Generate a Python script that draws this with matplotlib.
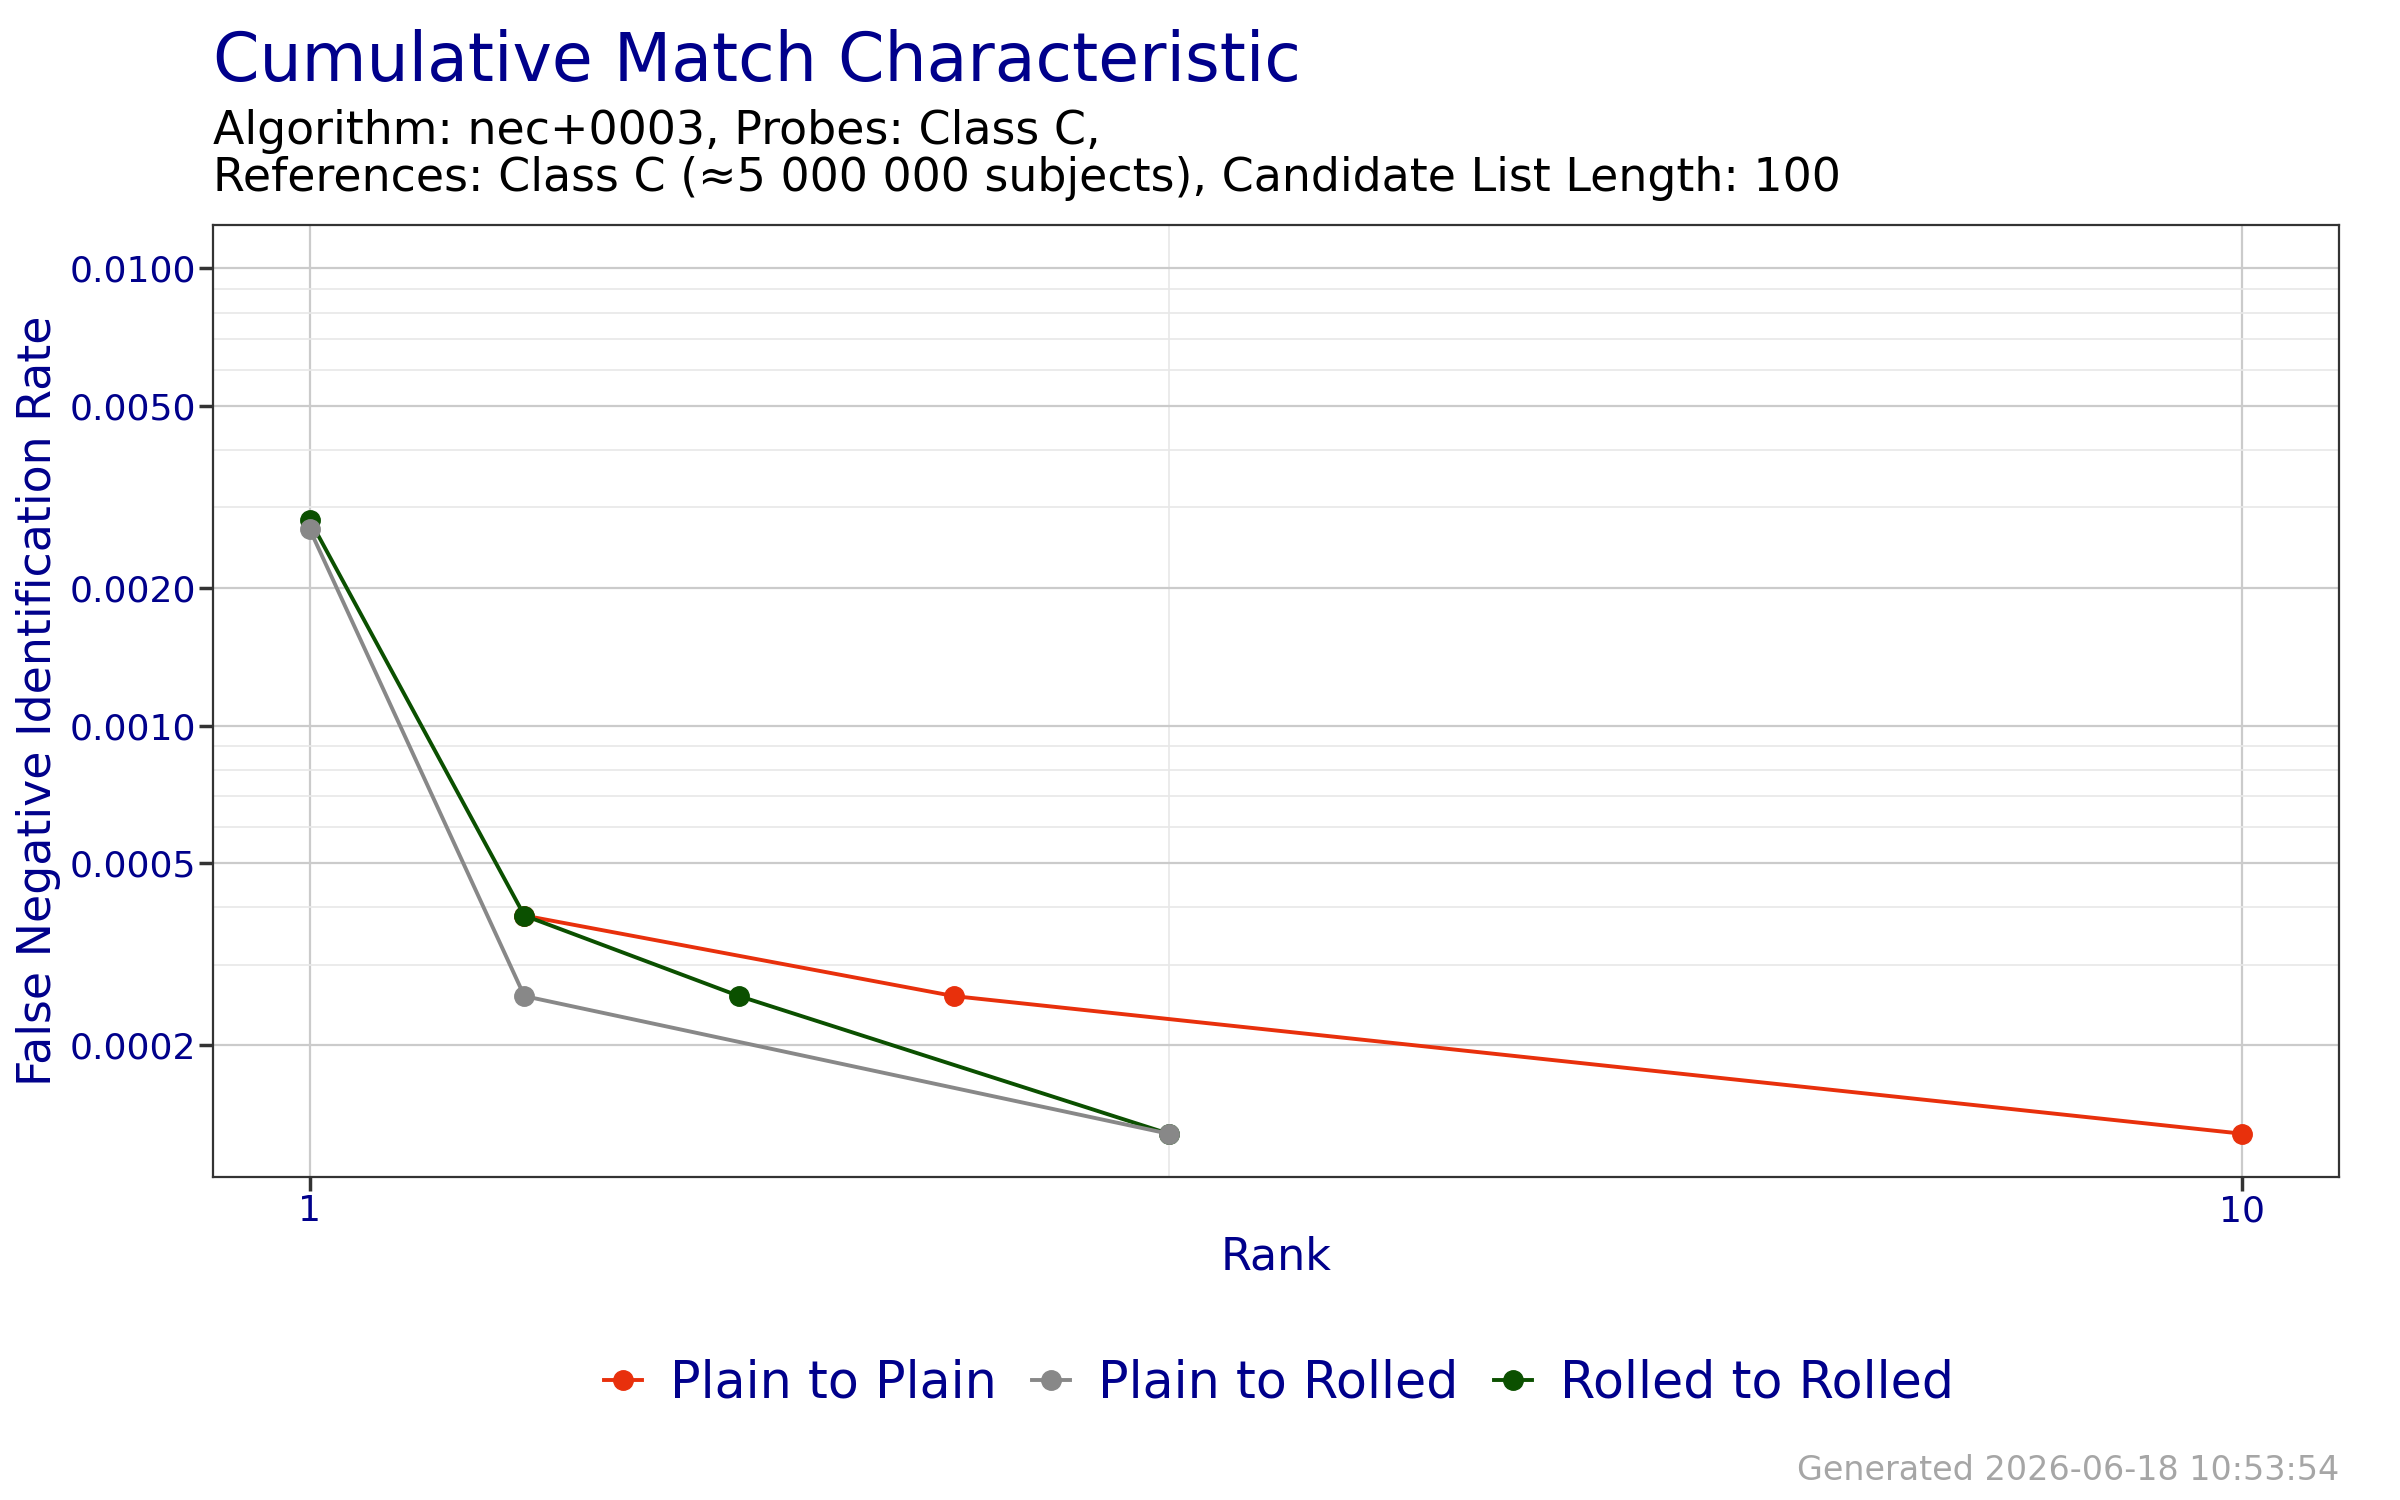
import numpy as np
import matplotlib
matplotlib.use('Agg')
import matplotlib.pyplot as plt
from matplotlib.ticker import FixedLocator, FuncFormatter

# CMC data (rank vs FNIR)
rank_pp = [2, 4, 10]
fnir_pp = [0.000384, 0.000256, 0.000128]
rank_pr = [1, 2, 5]
fnir_pr = [0.00269, 0.000256, 0.000128]
rank_rr = [1, 2, 3, 5]
fnir_rr = [0.00282, 0.000384, 0.000256, 0.000128]

series = ["Plain to Plain", "Plain to Rolled", "Rolled to Rolled"]
colors = ["#E8300C", "#888888", "#0B5000"]

y_breaks = [0.0002, 0.0005, 0.0010, 0.0020, 0.0050, 0.0100]
x_breaks = [1, 10]

navy = "#00008B"
plt.rcParams['font.family'] = ['DejaVu Sans']

fig = plt.figure(figsize=(24, 15), dpi=100)
ax = fig.add_axes([213/2400, 1 - 1177/1500, (2339-213)/2400, (1177-225)/1500])

lw = 2.8
ms = 14
ax.plot(rank_pp, fnir_pp, '-o', color=colors[0], lw=lw, ms=ms, label=series[0], zorder=3)
ax.plot(rank_pr, fnir_pr, '-o', color=colors[1], lw=lw, ms=ms, label=series[1], zorder=5)
ax.plot(rank_rr, fnir_rr, '-o', color=colors[2], lw=lw, ms=ms, label=series[2], zorder=4)

ax.set_yscale('log')
# ggplot style 5% expansion
lo, hi = np.log10(0.000128), np.log10(0.01)
pad = (hi - lo) * 0.05
ax.set_ylim(10**(lo - pad), 10**(hi + pad))
ax.set_xlim(1 - 0.45, 10 + 0.45)

ax.yaxis.set_major_locator(FixedLocator(y_breaks))
ax.yaxis.set_major_formatter(FuncFormatter(lambda v, p: "%.4f" % v))
minor_y = [m * 10.0**e for e in range(-5, -1) for m in range(2, 10)]
ax.yaxis.set_minor_locator(FixedLocator(minor_y))
ax.yaxis.set_minor_formatter(FuncFormatter(lambda v, p: ""))
ax.set_xticks(x_breaks)
ax.set_xticklabels([str(b) for b in x_breaks])
ax.set_xticks([5], minor=True)

ax.grid(which='major', color='#CBCBCB', lw=1.6)
ax.grid(which='minor', color='#E8E8E8', lw=1.2)
ax.set_axisbelow(True)

for s in ax.spines.values():
    s.set_color('#333333')
    s.set_linewidth(1.6)
ax.tick_params(which='major', length=10, width=2.5, color='#333333',
               labelsize=26, labelcolor=navy, pad=2.5)
ax.tick_params(which='minor', length=0)

ax.set_xlabel("Rank", fontsize=32, color=navy, labelpad=5)
ax.set_ylabel("False Negative Identification Rate", fontsize=33, color=navy, labelpad=6)

fig.text(213/2400, 1 - 81/1500, "Cumulative Match Characteristic", fontsize=48,
         color=navy, ha='left', va='baseline')
fig.text(213/2400, 1 - 144/1500, "Algorithm: nec+0003, Probes: Class C,", fontsize=33,
         color='black', ha='left', va='baseline')
fig.text(213/2400, 1 - 191/1500,
         "References: Class C (\u22485 000 000 subjects), Candidate List Length: 100",
         fontsize=33, color='black', ha='left', va='baseline')

handles, labels = ax.get_legend_handles_labels()
leg = fig.legend(handles, labels, loc='center', bbox_to_anchor=(1279/2400, 1 - 1384/1500),
                 ncol=3, frameon=False, fontsize=36.5, handlelength=0.75,
                 handletextpad=0.55, columnspacing=0.7)
for t in leg.get_texts():
    t.set_color(navy)

fig.text(2339/2400, 1 - 1480/1500, "Generated 2026-06-18 10:53:54", fontsize=24,
         color='#A6A6A6', ha='right', va='baseline')

fig.savefig("out.png", dpi=100, facecolor='white')
